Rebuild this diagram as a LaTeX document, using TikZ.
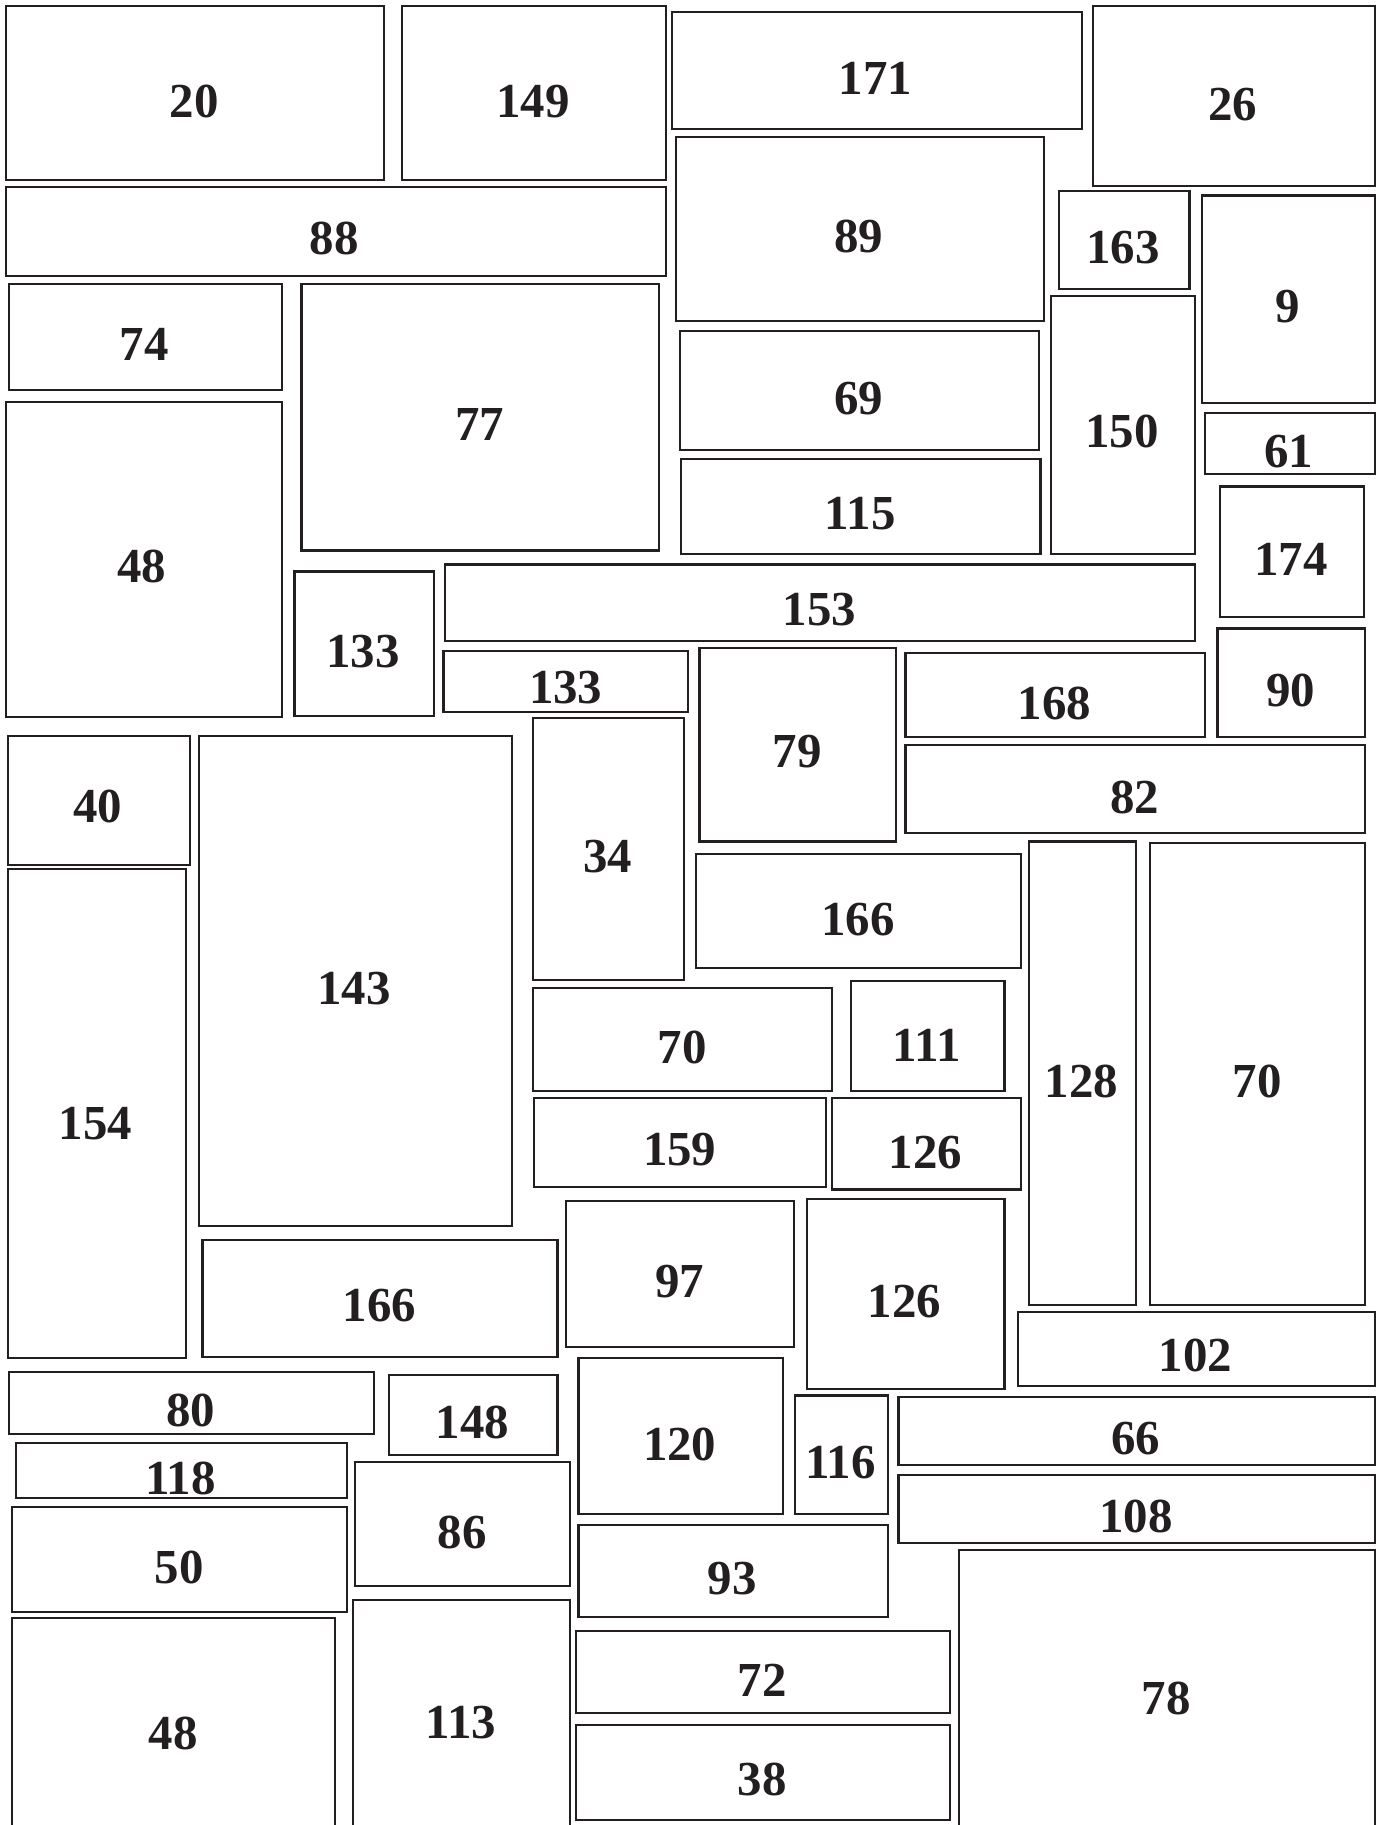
\documentclass[tikz,border=0pt]{standalone}
\usepackage{fontspec}
\setmainfont{Liberation Serif}
\usetikzlibrary{fit}
\definecolor{ink}{HTML}{231F20}
\tikzset{
  box/.style={draw=ink, line width=0.9pt, inner sep=0pt, outer sep=0pt, rectangle},
  lab/.style={inner sep=0pt, text=ink, font=\fontsize{21}{21}\selectfont\bfseries}
}
\newcommand\R[8]{%
  \node[box,fit={(#2,#3)(#4,#5)}] (#1) {};
  \node[lab] (#1l) at (#7,#8) {#6};}
\begin{document}
\begin{tikzpicture}[x=0.5pt,y=-0.5pt]
\useasboundingbox (0,0) rectangle (1188,1568);
\clip (0,0) rectangle (1188,1568);
\fill[white] (0,0) rectangle (1188,1568);
\R{a20}{5}{5}{330}{155}{20}{167}{87}
\R{a149}{345}{5}{572}{155}{149}{458}{87}
\R{a171}{577}{10}{930}{111}{171}{752}{67}
\R{a26}{939}{5}{1181}{160}{26}{1059}{90}
\R{a88}{5}{161}{572}{237}{88}{287}{205}
\R{a89}{581}{118}{897}{276}{89}{738}{203}
\R{a163}{910}{164}{1022}{248}{163}{965}{213}
\R{a9}{1033}{168}{1181}{346}{9}{1106}{263}
\R{a74}{8}{244}{242}{335}{74}{124}{296}
\R{a77}{259}{244}{566}{473}{77}{412}{365}
\R{a69}{584}{284}{893}{387}{69}{738}{342}
\R{a150}{903}{254}{1027}{476}{150}{964}{371}
\R{a61}{1035}{355}{1181}{407}{61}{1107}{388}
\R{a115}{585}{394}{894}{476}{115}{739}{441}
\R{a174}{1048}{418}{1172}{530}{174}{1109}{481}
\R{a48}{5}{345}{242}{616}{48}{122}{487}
\R{a133}{253}{491}{373}{615}{133}{312}{560}
\R{a153}{382}{485}{1027}{551}{153}{704}{524}
\R{b133}{381}{559}{591}{612}{133}{486}{591}
\R{a79}{601}{557}{770}{723}{79}{685}{646}
\R{a168}{778}{561}{1035}{633}{168}{906}{604}
\R{a90}{1046}{540}{1173}{633}{90}{1109}{593}
\R{a82}{778}{640}{1173}{716}{82}{975}{685}
\R{a40}{7}{632}{163}{743}{40}{84}{693}
\R{a143}{171}{632}{440}{1053}{143}{304}{849}
\R{a34}{458}{617}{588}{842}{34}{522}{736}
\R{a166}{598}{734}{877}{832}{166}{737}{790}
\R{a128}{884}{723}{976}{1121}{128}{929}{929}
\R{a70}{988}{724}{1173}{1121}{70}{1080}{929}
\R{a154}{7}{747}{160}{1167}{154}{82}{965}
\R{b70}{458}{849}{715}{937}{70}{586}{900}
\R{a111}{731}{843}{863}{937}{111}{796}{898}
\R{a159}{459}{943}{710}{1020}{159}{584}{988}
\R{a126}{715}{943}{877}{1022}{126}{795}{990}
\R{a97}{486}{1032}{682}{1157}{97}{584}{1101}
\R{b126}{693}{1030}{863}{1193}{126}{777}{1118}
\R{b166}{174}{1065}{479}{1166}{166}{326}{1122}
\R{a102}{875}{1127}{1181}{1191}{102}{1027}{1165}
\R{a80}{8}{1179}{321}{1232}{80}{164}{1212}
\R{a148}{334}{1181}{479}{1250}{148}{406}{1222}
\R{a120}{497}{1167}{673}{1301}{120}{584}{1241}
\R{a116}{683}{1199}{763}{1301}{116}{722}{1257}
\R{a66}{772}{1200}{1181}{1259}{66}{976}{1236}
\R{a118}{14}{1240}{298}{1287}{118}{155}{1270}
\R{a86}{305}{1256}{490}{1363}{86}{397}{1317}
\R{a108}{772}{1267}{1181}{1326}{108}{976}{1303}
\R{a50}{10}{1295}{298}{1385}{50}{154}{1347}
\R{a93}{497}{1310}{763}{1389}{93}{629}{1356}
\R{a78}{824}{1332}{1181}{1580}{78}{1002}{1459}
\R{b48}{10}{1390}{288}{1580}{48}{149}{1489}
\R{a113}{303}{1375}{490}{1580}{113}{396}{1480}
\R{a72}{495}{1401}{816}{1472}{72}{655}{1444}
\R{a38}{495}{1482}{816}{1564}{38}{655}{1529}
\end{tikzpicture}
\end{document}
